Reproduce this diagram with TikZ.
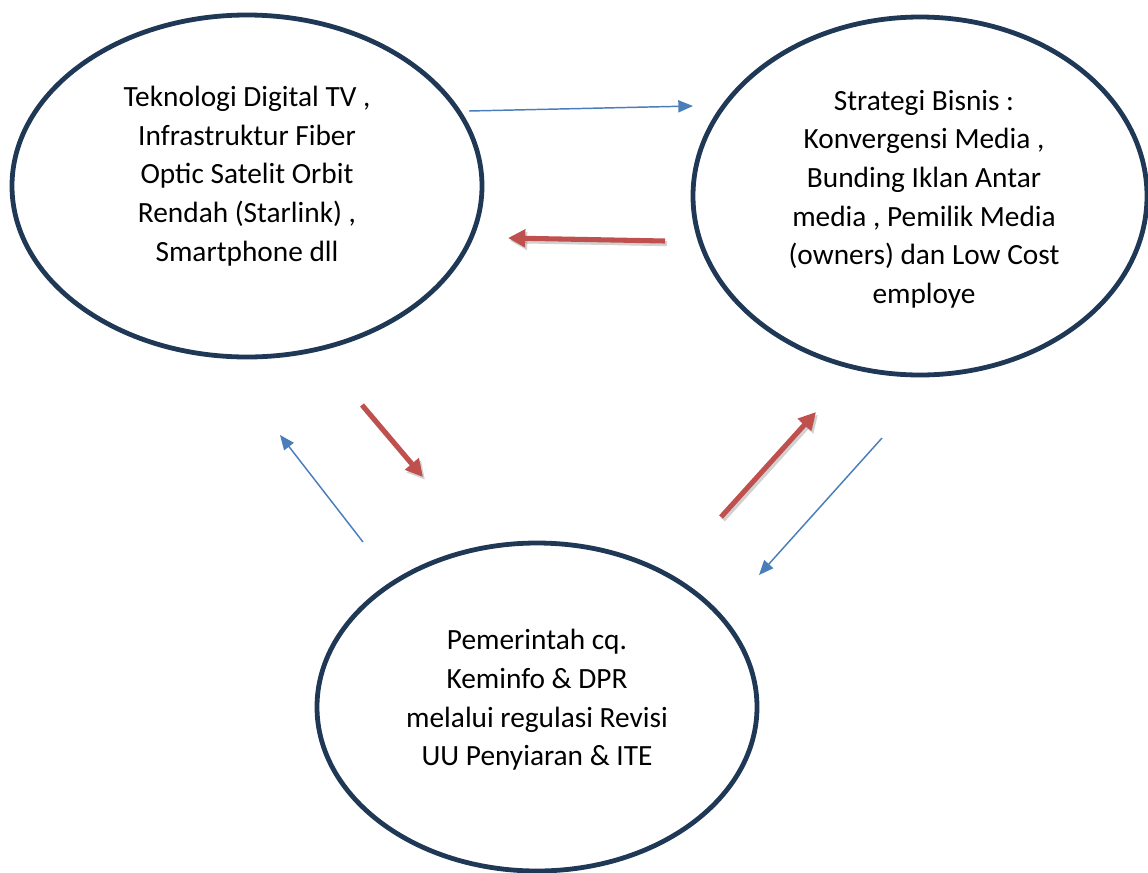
\documentclass[tikz,border=0pt]{standalone}
\usepackage{fontspec}
\setmainfont{Carlito}
\usetikzlibrary{arrows.meta,shapes.geometric}

\definecolor{ringnavy}{RGB}{31,56,86}
\definecolor{arrowblue}{RGB}{74,126,187}
\definecolor{arrowred}{RGB}{192,80,77}

\tikzset{
  ring/.style={ellipse, draw=ringnavy, line width=3.6pt, inner sep=0pt},
  ringtext/.style={align=center, inner sep=0pt, font=\fontsize{22}{29}\selectfont},
  bluearrow/.style={draw=arrowblue, line width=1.1pt, -{Triangle[length=11pt,width=9pt]}},
  redarrow/.style={draw=arrowred, line width=3.8pt, -{Triangle[length=13pt,width=13pt]},
    preaction={draw=black, opacity=0.18, line width=3.8pt, -{Triangle[length=13pt,width=13pt]},
      transform canvas={shift={(1.5pt,-2pt)}}}}
}

\begin{document}
\begin{tikzpicture}[x=0.75pt,y=0.75pt,yscale=-1]
\useasboundingbox (0,0) rectangle (1148,872);

%Shape: Ellipse [teknologi]
\node [ring, minimum width=352.5pt, minimum height=256.5pt] (tekno) at (247,186) {};
%Shape: Ellipse [strategi]
\node [ring, minimum width=340.5pt, minimum height=268.5pt] (bisnis) at (920,196) {};
%Shape: Ellipse [pemerintah]
\node [ring, minimum width=330pt, minimum height=246pt] (pemerintah) at (537,707) {};

% Text Node
\node [ringtext] (teknoText) at (247,176) {Teknologi Digital TV ,\\ Infrastruktur Fiber\\ Optic Satelit Orbit\\ Rendah (Starlink) ,\\ Smartphone dll};
% Text Node
\node [ringtext] (bisnisText) at (924,199) {Strategi Bisnis :\\ Konvergensi Media ,\\ Bunding Iklan Antar\\ media , Pemilik Media\\ (owners) dan Low Cost\\ employe};
% Text Node
\node [ringtext] (pemerintahText) at (537,700) {Pemerintah cq.\\ Keminfo \& DPR\\ melalui regulasi Revisi\\ UU Penyiaran \& ITE};

% arrow ends
\coordinate (teknoE) at (469,111);
\coordinate (bisnisW) at (693,106);
\coordinate (bisnisR) at (665,241);
\coordinate (teknoR) at (508,238);
\coordinate (teknoS) at (362,405);
\coordinate (pemerintahNW) at (423,477);
\coordinate (pemerintahW) at (363,542);
\coordinate (teknoSW) at (280,435);
\coordinate (pemerintahNE) at (721,517);
\coordinate (bisnisS) at (816,412);
\coordinate (bisnisSE) at (882,438);
\coordinate (pemerintahE) at (759,575);

%Straight Lines
\draw [bluearrow] (teknoE) -- (bisnisW);
\draw [redarrow] (bisnisR) -- (teknoR);
\draw [redarrow] (teknoS) -- (pemerintahNW);
\draw [bluearrow] (pemerintahW) -- (teknoSW);
\draw [redarrow] (pemerintahNE) -- (bisnisS);
\draw [bluearrow] (bisnisSE) -- (pemerintahE);

\end{tikzpicture}
\end{document}
